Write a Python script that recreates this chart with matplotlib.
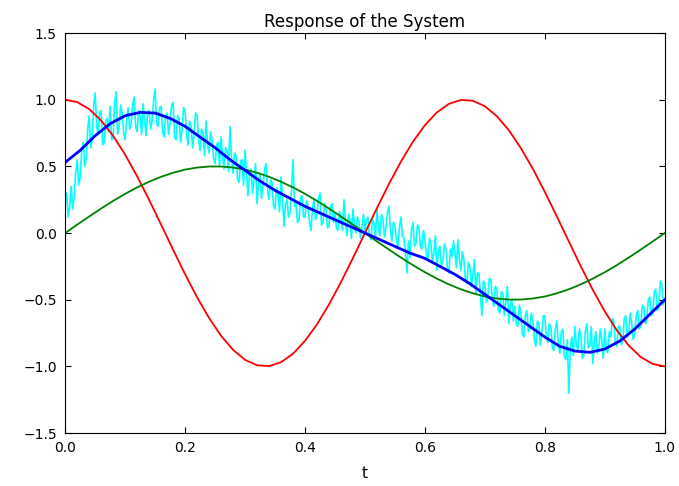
import matplotlib
matplotlib.use("Agg")
import matplotlib.pyplot as plt

# red and green curves, read every 0.02 in t
t_fine = [i / 50 for i in range(51)]
y_red = [1.0, 0.982, 0.930, 0.844, 0.729, 0.588, 0.426, 0.249, 0.063, -0.125,
         -0.309, -0.482, -0.637, -0.771, -0.876, -0.951, -0.992, -0.998, -0.969, -0.905,
         -0.809, -0.685, -0.536, -0.368, -0.187, 0.0, 0.187, 0.368, 0.536, 0.685,
         0.809, 0.905, 0.969, 0.998, 0.992, 0.951, 0.876, 0.771, 0.637, 0.482,
         0.309, 0.125, -0.063, -0.249, -0.426, -0.588, -0.729, -0.844, -0.930, -0.982,
         -1.0]
y_green = [0.0, 0.063, 0.124, 0.184, 0.241, 0.294, 0.342, 0.385, 0.422, 0.452,
           0.476, 0.491, 0.499, 0.499, 0.491, 0.476, 0.452, 0.422, 0.385, 0.342,
           0.294, 0.241, 0.184, 0.124, 0.063, 0.0, -0.063, -0.124, -0.184, -0.241,
           -0.294, -0.342, -0.385, -0.422, -0.452, -0.476, -0.491, -0.499, -0.499, -0.491,
           -0.476, -0.452, -0.422, -0.385, -0.342, -0.294, -0.241, -0.184, -0.124, -0.063,
           0.0]

# blue (smoothed response), read every 0.025
t_blue = [i / 40 for i in range(41)]
y_blue = [0.53, 0.62, 0.73, 0.82, 0.88, 0.905, 0.90, 0.86, 0.80, 0.72,
          0.64, 0.55, 0.47, 0.39, 0.32, 0.26, 0.20, 0.15, 0.10, 0.05,
          0.0, -0.05, -0.10, -0.15, -0.19, -0.25, -0.31, -0.38, -0.46, -0.54,
          -0.62, -0.70, -0.78, -0.85, -0.885, -0.895, -0.87, -0.81, -0.72, -0.61,
          -0.50]

# noisy measurement (cyan), read every 0.0025
t_noisy = [i / 400 for i in range(401)]
y_noisy = [
    0.22, 0.30, 0.12, 0.20, 0.35, 0.18, 0.28, 0.45, 0.55, 0.36, 0.42, 0.62, 0.68, 0.50, 0.55, 0.78, 0.88, 0.64, 0.70, 0.96,
    1.05, 0.80, 0.74, 0.90, 0.92, 0.66, 0.68, 0.84, 0.86, 0.76, 0.95, 0.70, 0.72, 0.98, 1.06, 0.74, 0.80, 0.96, 0.90, 0.75,
    0.70, 0.86, 0.94, 0.78, 0.82, 0.96, 1.02, 0.80, 0.76, 0.92, 0.88, 0.74, 0.97, 0.84, 0.73, 0.90, 0.92, 0.78, 0.84, 1.00,
    1.08, 0.82, 0.80, 0.94, 0.95, 0.76, 0.72, 0.88, 0.90, 0.74, 0.83, 0.96, 0.98, 0.72, 0.70, 0.88, 0.86, 0.68, 0.78, 0.94,
    0.92, 0.74, 0.66, 0.84, 0.80, 0.64, 0.74, 0.90, 0.88, 0.70, 0.62, 0.78, 0.75, 0.58, 0.84, 0.66, 0.60, 0.76, 0.70, 0.56,
    0.52, 0.66, 0.68, 0.50, 0.72, 0.58, 0.48, 0.64, 0.62, 0.46, 0.80, 0.56, 0.45, 0.60, 0.58, 0.40, 0.38, 0.54, 0.55, 0.36,
    0.62, 0.44, 0.28, 0.46, 0.48, 0.30, 0.40, 0.52, 0.22, 0.38, 0.45, 0.26, 0.35, 0.48, 0.52, 0.32, 0.25, 0.40, 0.38, 0.20,
    0.18, 0.34, 0.30, 0.16, 0.42, 0.26, 0.05, 0.22, 0.25, 0.12, 0.15, 0.32, 0.55, 0.20, 0.22, 0.08, 0.10, 0.26, 0.28, 0.12,
    0.12, 0.24, 0.20, 0.08, 0.02, 0.18, 0.25, 0.10, 0.14, 0.26, 0.30, 0.06, 0.08, 0.22, 0.18, 0.04, 0.05, 0.20, 0.22, 0.08,
    0.15, 0.04, 0.02, 0.16, 0.12, 0.02, 0.25, 0.08, -0.02, 0.14, 0.10, -0.04, 0.18, 0.06, 0.00, 0.12, 0.08, -0.04, 0.05, 0.14,
    0.02, 0.10, 0.12, -0.02, -0.05, 0.10, 0.08, -0.04, 0.18, 0.04, -0.02, 0.14, 0.10, -0.03, 0.04, 0.16, 0.20, 0.02, -0.06, 0.08,
    0.06, -0.06, -0.10, 0.04, 0.12, -0.02, -0.04, -0.14, -0.30, -0.06, -0.18, 0.02, 0.08, -0.10, -0.08, 0.06, 0.04, -0.10, -0.12, 0.02,
    -0.05, -0.16, -0.20, -0.04, -0.08, -0.22, -0.15, -0.02, -0.28, -0.14, -0.10, -0.24, -0.22, -0.08, -0.12, -0.26, -0.30, -0.12, -0.18, -0.06,
    -0.15, -0.26, -0.05, -0.20, -0.28, -0.14, -0.20, -0.34, -0.38, -0.22, -0.25, -0.40, -0.32, -0.20, -0.45, -0.30, -0.30, -0.46, -0.62, -0.36,
    -0.38, -0.52, -0.48, -0.34, -0.35, -0.50, -0.55, -0.40, -0.42, -0.58, -0.60, -0.44, -0.45, -0.62, -0.52, -0.40, -0.68, -0.54, -0.50, -0.66,
    -0.55, -0.68, -0.70, -0.54, -0.60, -0.76, -0.78, -0.62, -0.58, -0.74, -0.72, -0.60, -0.65, -0.80, -0.85, -0.66, -0.68, -0.84, -0.75, -0.62,
    -0.62, -0.78, -0.82, -0.68, -0.70, -0.86, -0.88, -0.72, -0.66, -0.84, -0.90, -0.74, -0.72, -0.92, -0.95, -0.80, -1.20, -0.86, -0.78, -0.92,
    -0.70, -0.84, -0.88, -0.72, -0.76, -0.94, -0.92, -0.74, -0.68, -0.86, -0.85, -0.70, -0.98, -0.82, -0.74, -0.90, -0.86, -0.72, -0.80, -0.94,
    -0.72, -0.86, -0.90, -0.74, -0.78, -0.64, -0.66, -0.82, -0.85, -0.70, -0.70, -0.84, -0.80, -0.64, -0.62, -0.78, -0.76, -0.60, -0.68, -0.80,
    -0.75, -0.62, -0.58, -0.72, -0.70, -0.54, -0.55, -0.68, -0.66, -0.50, -0.48, -0.62, -0.60, -0.44, -0.42, -0.58, -0.56, -0.36, -0.38, -0.54,
    -0.50]

fig = plt.figure(figsize=(6.79, 4.86), dpi=100)
ax = fig.add_axes([0.096, 0.109, 0.883, 0.823])

ax.plot(t_noisy, y_noisy, color='cyan', lw=1.2)
ax.plot(t_fine, y_red, color='red', lw=1.3)
ax.plot(t_fine, y_green, color='green', lw=1.3)
ax.plot(t_blue, y_blue, color='blue', lw=2.0)

ax.set_xlim(0, 1)
ax.set_ylim(-1.5, 1.5)
ax.set_xticks([0.0, 0.2, 0.4, 0.6, 0.8, 1.0])
ax.set_yticks([-1.5, -1.0, -0.5, 0.0, 0.5, 1.0, 1.5])
ax.tick_params(direction='in', top=True, right=True, length=4, labelsize=10, pad=6)
ax.set_xlabel('t', fontsize=11, labelpad=8)
ax.set_title('Response of the System', fontsize=12, pad=4)

fig.savefig('out.png', dpi=100)
